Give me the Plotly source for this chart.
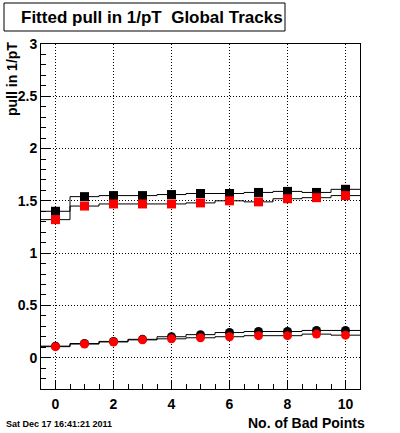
import plotly.graph_objects as go

# ---- data ----
bad_points = [0, 1, 2, 3, 4, 5, 6, 7, 8, 9, 10]
pull_sq_black = [1.40, 1.54, 1.55, 1.55, 1.56, 1.57, 1.57, 1.58, 1.59, 1.58, 1.61]
pull_sq_red = [1.32, 1.45, 1.47, 1.47, 1.47, 1.48, 1.50, 1.49, 1.52, 1.53, 1.55]
pull_ci_black = [0.11, 0.135, 0.155, 0.175, 0.20, 0.22, 0.24, 0.25, 0.25, 0.26, 0.26]
pull_ci_red = [0.105, 0.13, 0.15, 0.17, 0.18, 0.19, 0.20, 0.21, 0.21, 0.225, 0.215]
x_ticks = [0, 2, 4, 6, 8, 10]
y_ticks = [0, 0.5, 1, 1.5, 2, 2.5, 3]

FONT = "Liberation Sans, Arial, Helvetica, sans-serif"
W, H = 400, 433
L, R, T, B = 41, 40, 44, 44


def px(x):
    return (x - L) / (W - L - R)


def py(y):
    return (H - B - y) / (H - T - B)


def steps(vals):
    xs = [b - 0.5 for b in bad_points] + [bad_points[-1] + 0.5]
    ys = list(vals) + [vals[-1]]
    return xs, ys


fig = go.Figure()

for vals in (pull_sq_black, pull_sq_red, pull_ci_black, pull_ci_red):
    xs, ys = steps(vals)
    fig.add_trace(go.Scatter(x=xs, y=ys, mode="lines", line_shape="hv",
                             line=dict(color="black", width=1),
                             hoverinfo="skip", showlegend=False))

for vals, sym, col in ((pull_sq_black, "square", "black"),
                       (pull_sq_red, "square", "red"),
                       (pull_ci_black, "circle", "black"),
                       (pull_ci_red, "circle", "red")):
    fig.add_trace(go.Scatter(x=bad_points, y=vals, mode="markers",
                             marker=dict(symbol=sym, size=9, color=col,
                                         line=dict(width=0)),
                             showlegend=False))

axis_common = dict(
    showline=True, linecolor="black", linewidth=1, mirror=True,
    showgrid=True, gridcolor="black", gridwidth=1, griddash="1px,2px",
    zeroline=False, ticks="inside", ticklen=9, tickwidth=1, tickcolor="black",
    tickfont=dict(family=FONT, size=14, color="black", weight="bold"),
)

fig.update_xaxes(range=[-0.5, 10.5], tickvals=x_ticks, ticklabelstandoff=2,
                 minor=dict(dtick=0.5, tick0=0, ticks="inside", ticklen=5,
                            tickcolor="black", showgrid=False),
                 **axis_common)
fig.update_yaxes(range=[-0.3, 3], tickvals=y_ticks, ticklabelstandoff=0,
                 minor=dict(dtick=0.1, tick0=0, ticks="inside", ticklen=5,
                            tickcolor="black", showgrid=False),
                 **axis_common)

fig.add_shape(type="rect", xref="paper", yref="paper",
              x0=px(4), x1=px(285), y0=py(31), y1=py(3),
              line=dict(color="black", width=1), fillcolor="white")

fig.add_annotation(text="<b>Fitted pull in 1/pT\u00a0 Global Tracks</b>",
                   xref="paper", yref="paper", x=px(152), y=py(17),
                   xanchor="center", yanchor="middle", showarrow=False,
                   font=dict(family=FONT, size=17, color="black"))

fig.add_annotation(text="<b>pull in 1/pT</b>", textangle=-90,
                   xref="paper", yref="paper", x=px(12), y=py(40),
                   xanchor="center", yanchor="top", showarrow=False,
                   font=dict(family=FONT, size=14, color="black"))

fig.add_annotation(text="<b>No. of Bad Points</b>",
                   xref="paper", yref="paper", x=px(367), y=py(423),
                   xanchor="right", yanchor="middle", showarrow=False,
                   font=dict(family=FONT, size=14, color="black"))

fig.add_annotation(text="<b>Sat Dec 17 16:41:21 2011</b>",
                   xref="paper", yref="paper", x=px(4), y=py(424),
                   xanchor="left", yanchor="middle", showarrow=False,
                   font=dict(family=FONT, size=9, color="black"))

fig.update_layout(width=W, height=H,
                  margin=dict(l=L, r=R, t=T, b=B, pad=0),
                  paper_bgcolor="white", plot_bgcolor="white",
                  showlegend=False)

fig.write_html("out.html",
               config={"displayModeBar": False},
               post_script="document.body.style.margin='0';"
                           "document.body.style.padding='0';"
                           "document.body.style.overflow='hidden';")
